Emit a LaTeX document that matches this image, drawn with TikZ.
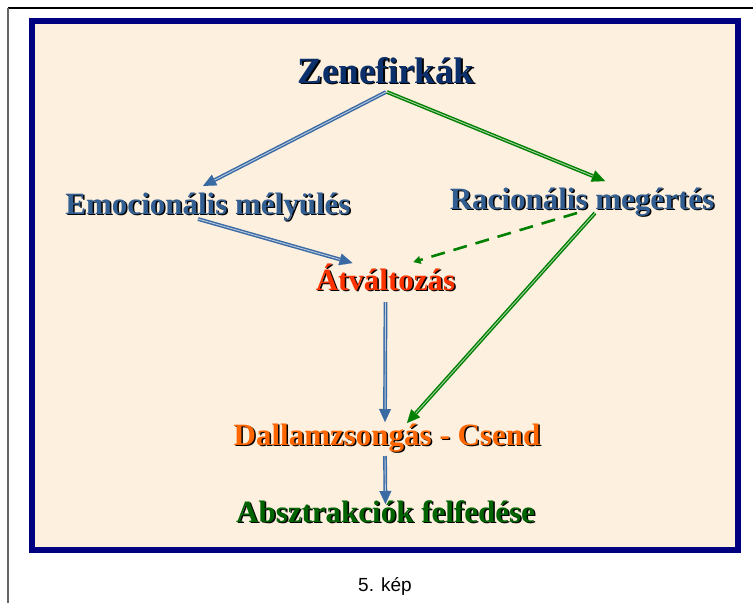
\documentclass[tikz,border=0pt]{standalone}
\usepackage{fontspec}
\setmainfont{Liberation Serif}
\setsansfont{Liberation Sans}
\usetikzlibrary{arrows.meta,calc}
\definecolor{navyframe}{RGB}{0,0,128}
\definecolor{cream}{RGB}{253,240,223}
\definecolor{ztitle}{RGB}{12,48,108}
\definecolor{steel}{RGB}{51,94,145}
\definecolor{arrblue}{RGB}{58,106,164}
\definecolor{arrgreen}{RGB}{0,128,0}
\definecolor{redor}{RGB}{255,51,0}
\definecolor{orng}{RGB}{255,102,0}
\definecolor{dgreen}{RGB}{0,100,0}
\newcommand{\shtxt}[2]{\rlap{\kern#1\raisebox{-#1}{\color{black}#2}}#2}
\tikzset{
  lbl/.style={anchor=base, inner sep=0pt, font=\fontsize{31}{36}\selectfont\bfseries},
  dblarr/.style={line width=3.8pt, draw=#1,
    -{Triangle[length=13pt,width=12pt,line width=0.1pt]},
    postaction={draw=#1!35!white, line width=0.9pt, -, shorten >=13pt}},
  dasharr/.style={line width=2.6pt, draw=#1, dash pattern=on 14pt off 9pt,
    -{Triangle[length=7pt,width=8pt,line width=0.1pt]}},
}
\begin{document}
\begin{tikzpicture}[x=1pt,y=-1pt]
\useasboundingbox (0,0) rectangle (753,603);
% outer frame
\draw[black, line width=1.2pt] (8,8) -- (753,8);
\draw[black!60, line width=1.4pt] (8,8) -- (8,603);
% blue box
\draw[draw=navyframe, line width=6pt, fill=cream] (32,21) rectangle (738,550);
% texts
\node[lbl, text=ztitle, font=\fontsize{37}{42}\selectfont\bfseries] (z) at (386,83) {\shtxt{1.5pt}{Zenefirkák}};
\node[lbl, text=steel] (emo) at (208,214) {\shtxt{1.5pt}{Emocionális mélyülés}};
\node[lbl, text=steel] (rac) at (582,209) {\shtxt{1.5pt}{Racionális megértés}};
\node[lbl, text=redor] (atv) at (385.5,290) {\shtxt{1.5pt}{Átváltozás}};
\node[lbl, text=orng] (dal) at (387,445) {\shtxt{1.5pt}{Dallamzsongás - Csend}};
\node[lbl, text=dgreen] (abs) at (385.5,522) {\shtxt{1.5pt}{Absztrakciók felfedése}};
\node[anchor=base, inner sep=0pt, font=\sffamily\fontsize{19}{23}\selectfont] (cap) at (385,591) {5. kép};
% connectors
\draw[dblarr=arrblue] ($(z.base)+(0,9)$) -- ($(emo.base)+(-5,-28)$);
\draw[dblarr=arrgreen] ($(z.base)+(1,9)$) -- ($(rac.base)+(23,-28)$);
\draw[dblarr=arrblue] ($(emo.base)+(-10,5)$) -- ($(atv.base)+(-33,-27)$);
\draw[dasharr=arrgreen] ($(rac.base)+(-5,4)$) -- ($(atv.base)+(28,-28)$);
\draw[dblarr=arrblue] ($(atv.base)+(0,12)$) -- ($(dal.base)+(-2,-23)$);
\draw[dblarr=arrgreen] ($(rac.base)+(13,4)$) -- ($(dal.base)+(20,-22)$);
\draw[dblarr=arrblue] ($(dal.base)+(-2,11)$) -- ($(abs.base)+(0,-18)$);
\end{tikzpicture}
\end{document}
